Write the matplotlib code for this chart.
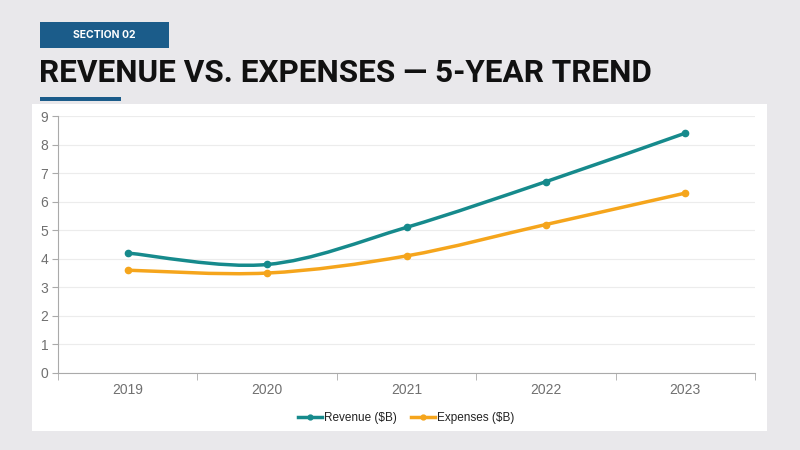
import numpy as np
import matplotlib
matplotlib.use('Agg')
import matplotlib.pyplot as plt
from matplotlib.path import Path
from matplotlib.patches import PathPatch, Rectangle

years = ['2019', '2020', '2021', '2022', '2023']
revenue = [4.2, 3.8, 5.1, 6.7, 8.4]
expenses = [3.6, 3.5, 4.1, 5.2, 6.3]
series_names = ['Revenue ($B)', 'Expenses ($B)']

teal = '#168a8c'
orange = '#f5a51c'
navy = '#1b5c8a'
bg = '#e9e8eb'


def smooth_path(xs, ys, t=0.5):
    # catmull-rom -> cubic bezier segments, drawn by matplotlib as CURVE4
    verts = [(xs[0], ys[0])]
    codes = [Path.MOVETO]
    n = len(xs)
    for i in range(n - 1):
        p0 = (xs[max(i - 1, 0)], ys[max(i - 1, 0)])
        p1 = (xs[i], ys[i])
        p2 = (xs[i + 1], ys[i + 1])
        p3 = (xs[min(i + 2, n - 1)], ys[min(i + 2, n - 1)])
        c1 = (p1[0] + (p2[0] - p0[0]) * t / 3, p1[1] + (p2[1] - p0[1]) * t / 3)
        c2 = (p2[0] - (p3[0] - p1[0]) * t / 3, p2[1] - (p3[1] - p1[1]) * t / 3)
        verts += [c1, c2, p2]
        codes += [Path.CURVE4] * 3
    return Path(verts, codes)


plt.rcParams['font.family'] = ['Liberation Sans', 'DejaVu Sans']

fig = plt.figure(figsize=(8, 4.5), dpi=100)
fig.patch.set_facecolor(bg)

W, H = 800, 450
def fx(px):
    return px / W
def fy(py):
    return 1 - py / H

# header
fig.patches.append(Rectangle((fx(40), fy(48)), fx(129), 26 / H, transform=fig.transFigure,
                             facecolor=navy, edgecolor='none', zorder=-2))
fig.text(fx(104), fy(35), 'SECTION 02', color='white', fontsize=7.5, fontweight='bold',
         family=['Inter', 'DejaVu Sans'], ha='center', va='center')
fig.text(fx(39), fy(73), 'REVENUE VS. EXPENSES \u2014 5-YEAR TREND', color='#111111',
         fontsize=22.7, fontweight='bold', family=['Roboto', 'DejaVu Sans'],
         ha='left', va='center')
fig.patches.append(Rectangle((fx(40), fy(101)), fx(81), 4 / H, transform=fig.transFigure,
                             facecolor=navy, edgecolor='none', zorder=-2))
# white card
fig.patches.append(Rectangle((fx(32), fy(431)), fx(735), 327 / H, transform=fig.transFigure,
                             facecolor='white', edgecolor='none', zorder=-2))

ax = fig.add_axes([fx(58), fy(373), fx(697), 257 / H])
ax.set_facecolor('none')
x = np.arange(len(years))

for vals, col, name in [(revenue, teal, series_names[0]), (expenses, orange, series_names[1])]:
    ax.add_patch(PathPatch(smooth_path(x, vals), facecolor='none', edgecolor=col, lw=2.5,
                           capstyle='round', zorder=3))
    ax.plot(x, vals, 'o', color=col, ms=4.5, zorder=4)
    ax.plot([], [], '-o', color=col, lw=2.5, ms=3.5, label=name)

ax.set_xlim(-0.5, len(years) - 0.5)
ax.set_ylim(0, 9)
ax.set_yticks(range(0, 10))
ax.set_xticks(x)
ax.set_xticklabels(years)
ax.set_xticks(np.arange(-0.5, len(years)), minor=True)
ax.tick_params(axis='x', which='major', length=0, pad=7, labelsize=10, labelcolor='#707070')
ax.tick_params(axis='x', which='minor', length=5, color='#aaaaaa')
ax.tick_params(axis='y', length=4, color='#aaaaaa', labelsize=10, labelcolor='#707070', pad=3)
ax.grid(axis='y', color='#ececec', lw=0.8)
ax.set_axisbelow(True)
for s in ['top', 'right']:
    ax.spines[s].set_visible(False)
for s in ['left', 'bottom']:
    ax.spines[s].set_color('#aaaaaa')

leg = ax.legend(loc='upper center', bbox_to_anchor=(0.5, -0.11), ncol=2, frameon=False,
                fontsize=8.5, handlelength=2.0, columnspacing=1.2, handletextpad=0.2)
for t in leg.get_texts():
    t.set_color('#222222')

fig.savefig('out.png', dpi=100, facecolor=bg)
